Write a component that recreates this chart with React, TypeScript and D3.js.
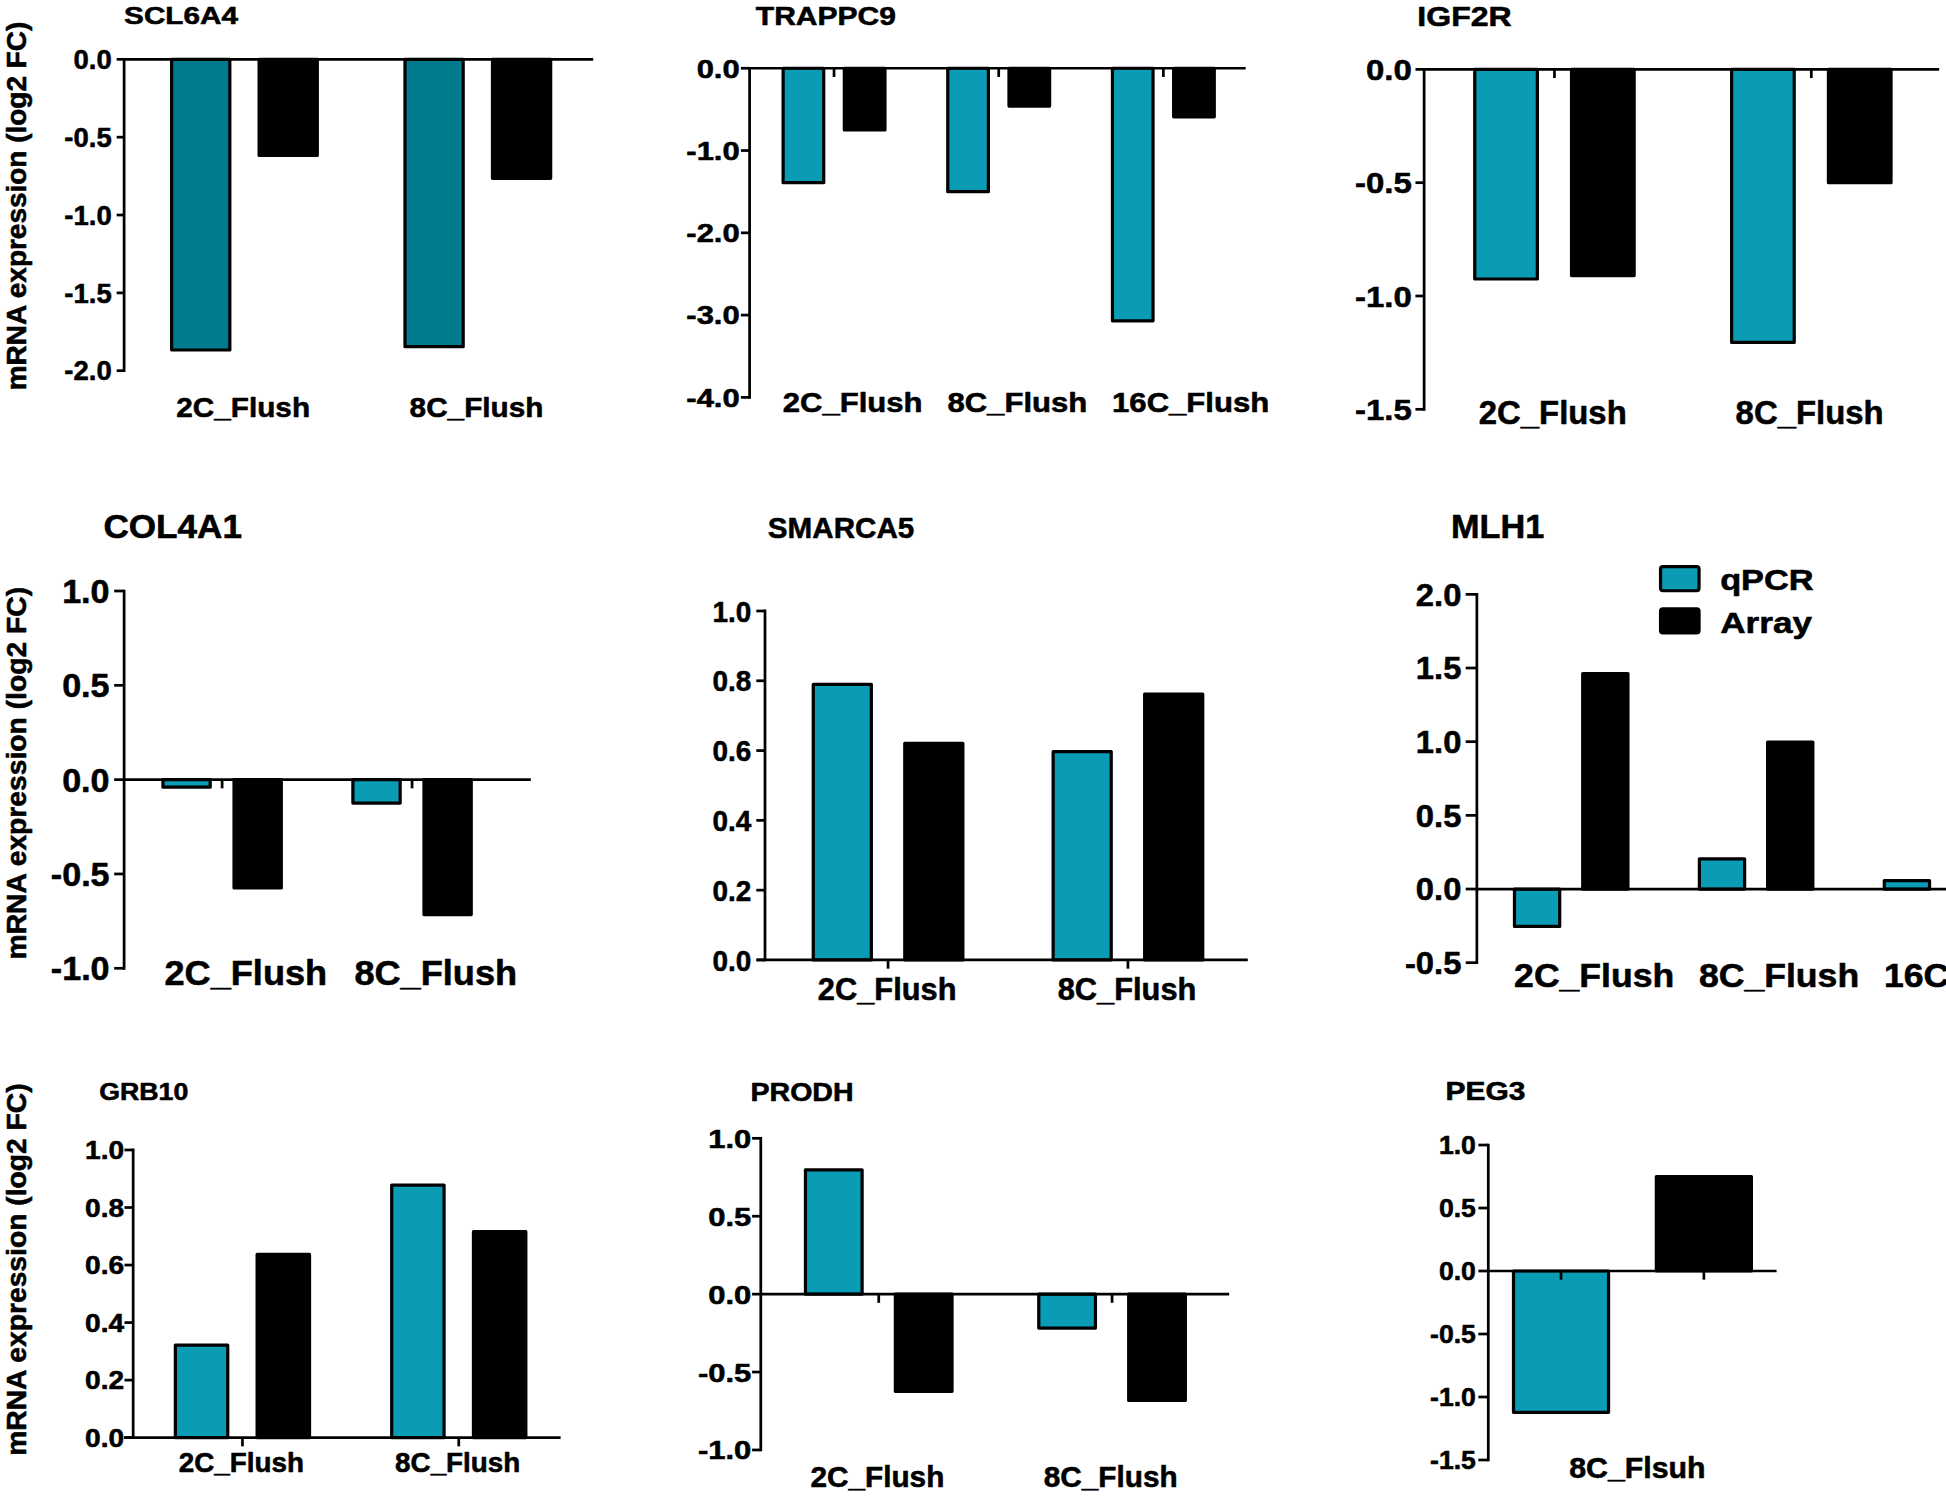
import React from 'react';
import * as d3 from 'd3';

// ---------------- data ----------------
const SERIES = ['qPCR', 'Array'];

const scl6a4Cats = ['2C_Flush', '8C_Flush'];
const scl6a4QPCR = [-1.867, -1.846];
const scl6a4Array = [-0.617, -0.764];
const scl6a4Ticks = [0, -0.5, -1, -1.5, -2];

const trappc9Cats = ['2C_Flush', '8C_Flush', '16C_Flush'];
const trappc9QPCR = [-1.39, -1.5, -3.07];
const trappc9Array = [-0.75, -0.46, -0.59];
const trappc9Ticks = [0, -1, -2, -3, -4];

const igf2rCats = ['2C_Flush', '8C_Flush'];
const igf2rQPCR = [-0.925, -1.205];
const igf2rArray = [-0.91, -0.5];
const igf2rTicks = [0, -0.5, -1, -1.5];

const col4a1Cats = ['2C_Flush', '8C_Flush'];
const col4a1QPCR = [-0.04, -0.124];
const col4a1Array = [-0.574, -0.715];
const col4a1Ticks = [1, 0.5, 0, -0.5, -1];

const smarca5Cats = ['2C_Flush', '8C_Flush'];
const smarca5QPCR = [0.79, 0.597];
const smarca5Array = [0.621, 0.762];
const smarca5Ticks = [0, 0.2, 0.4, 0.6, 0.8, 1];

const mlh1Cats = ['2C_Flush', '8C_Flush', '16C_Flush'];
const mlh1QPCR = [-0.254, 0.204, 0.057];
const mlh1Array: (number | null)[] = [1.462, 0.997, null];
const mlh1Ticks = [2, 1.5, 1, 0.5, 0, -0.5];

const grb10Cats = ['2C_Flush', '8C_Flush'];
const grb10QPCR = [0.322, 0.878];
const grb10Array = [0.637, 0.716];
const grb10Ticks = [0, 0.2, 0.4, 0.6, 0.8, 1];

const prodhCats = ['2C_Flush', '8C_Flush'];
const prodhQPCR = [0.798, -0.218];
const prodhArray = [-0.624, -0.682];
const prodhTicks = [1, 0.5, 0, -0.5, -1];

const peg3Cats = ['8C_Flsuh'];
const peg3QPCR = [-1.122];
const peg3Array = [0.749];
const peg3Ticks = [1, 0.5, 0, -0.5, -1, -1.5];

const Y_LABEL = 'mRNA expression (log2 FC)';

// ---------------- style ----------------
const FONT = "'Liberation Sans', Arial, Helvetica, sans-serif";
const TEAL = '#0a9bb5';
const TEAL_DARK = '#007a8d';
const AXIS_W = 2.2;
const BAR_W = 2.6;
const VB_W = 1568;
const VB_H = (1568 * 1497) / 1946;
const SIZE_K = 1.07;
const TEXT_STROKE = 0.45;

const fmt = d3
  .formatLocale({ decimal: '.', thousands: ',', grouping: [3], currency: ['', ''], minus: '-' })
  .format('.1f');

type Cfg = any;

const panels: Cfg[] = [
  {
    title: 'SCL6A4', tX: 100, tY: 19.2, tSize: 18, tSx: 1.33,
    cats: scl6a4Cats, values: [scl6a4QPCR, scl6a4Array], ticks: scl6a4Ticks,
    domain: [-2, 0], yTop: 47.8, yBottom: 298.7, axisX: 100, zlStart: 100, zlEnd: 478,
    gx0: 137, gx1: 445, pIn: 0.362, qIn: 0.298, teal: TEAL_DARK,
    tickSize: 20.5, tickSx: 1.08, tickLen: 6, tickGap: 10, catTicks: 'none',
    lDx: 5, lY: 336, lSize: 21.4, lSx: 1.12,
  },
  {
    title: 'TRAPPC9', tX: 609, tY: 20.5, tSize: 20, tSx: 1.21,
    cats: trappc9Cats, values: [trappc9QPCR, trappc9Array], ticks: trappc9Ticks,
    domain: [-4, 0], yTop: 55, yBottom: 320.2, axisX: 604, zlStart: 604, zlEnd: 1003.7,
    gx0: 629.7, gx1: 979.7, pIn: 0.362, qIn: 0.284, teal: TEAL,
    tickSize: 19.5, tickSx: 1.28, tickLen: 7, tickGap: 8, catTicks: 'group',
    lDx: 1, lY: 331.7, lSize: 20.7, lSx: 1.21,
  },
  {
    title: 'IGF2R', tX: 1142, tY: 21.2, tSize: 21, tSx: 1.23,
    cats: igf2rCats, values: [igf2rQPCR, igf2rArray], ticks: igf2rTicks,
    domain: [-1.5, 0], yTop: 55.9, yBottom: 329.8, axisX: 1147.5, zlStart: 1147.5, zlEnd: 1562.5,
    gx0: 1187, gx1: 1525, pIn: 0.367, qIn: 0.32, teal: TEAL,
    tickSize: 22.5, tickSx: 1.18, tickLen: 7, tickGap: 10, catTicks: 'group',
    lDx: 4.5, lY: 341.6, lSize: 25, lSx: 1.06,
  },
  {
    title: 'COL4A1', tX: 83.3, tY: 433.8, tSize: 24.4, tSx: 1.16,
    cats: col4a1Cats, values: [col4a1QPCR, col4a1Array], ticks: col4a1Ticks,
    domain: [-1, 1], yTop: 476.2, yBottom: 780.2, axisX: 100, zlStart: 100, zlEnd: 427.7,
    gx0: 130, gx1: 381, pIn: 0.36, qIn: 0.29, teal: TEAL,
    tickSize: 25, tickSx: 1.1, tickLen: 8, tickGap: 11.7, catTicks: 'group',
    lDx: 2.5, lY: 793.7, lSize: 26.5, lSx: 1.1,
  },
  {
    title: 'SMARCA5', tX: 618.7, tY: 433.8, tSize: 22.6, tSx: 1.056,
    cats: smarca5Cats, values: [smarca5QPCR, smarca5Array], ticks: smarca5Ticks,
    domain: [0, 1], yTop: 492.3, yBottom: 773.5, axisX: 616.4, zlStart: 609.7, zlEnd: 1005.4,
    gx0: 654, gx1: 970.4, pIn: 0.363, qIn: 0.33, teal: TEAL,
    tickSize: 22.5, tickSx: 1.0, tickLen: 7, tickGap: 11, catTicks: 'group',
    lDx: 5, lY: 805.7, lSize: 23.3, lSx: 1.065,
  },
  {
    title: 'MLH1', tX: 1169.2, tY: 433.8, tSize: 24.4, tSx: 1.13,
    cats: mlh1Cats, values: [mlh1QPCR, mlh1Array], ticks: mlh1Ticks,
    domain: [-0.5, 2], yTop: 478.9, yBottom: 775.7, axisX: 1190, zlStart: 1190, zlEnd: 1568,
    gx0: 1219, gx1: 1611, pIn: 0.369, qIn: 0.29, teal: TEAL,
    tickSize: 24, tickSx: 1.1, tickLen: 9, tickGap: 12.5, catTicks: 'none',
    lDx: 1, lY: 795, lSize: 24.4, lSx: 1.175, legend: true,
  },
  {
    title: 'GRB10', tX: 80, tY: 886.3, tSize: 17.5, tSx: 1.23,
    cats: grb10Cats, values: [grb10QPCR, grb10Array], ticks: grb10Ticks,
    domain: [0, 1], yTop: 926.6, yBottom: 1158.4, axisX: 107.3, zlStart: 100, zlEnd: 451.7,
    gx0: 140, gx1: 425, pIn: 0.365, qIn: 0.32, teal: TEAL,
    tickSize: 19.2, tickSx: 1.18, tickLen: 7, tickGap: 7.3, catTicks: 'group',
    lDx: 4, lY: 1185.8, lSize: 20.7, lSx: 1.084,
  },
  {
    title: 'PRODH', tX: 604.7, tY: 886.8, tSize: 19.5, tSx: 1.18,
    cats: prodhCats, values: [prodhQPCR, prodhArray], ticks: prodhTicks,
    domain: [-1, 1], yTop: 917.2, yBottom: 1168.3, axisX: 613, zlStart: 613, zlEnd: 990.4,
    gx0: 647.7, gx1: 956.4, pIn: 0.358, qIn: 0.334, teal: TEAL,
    tickSize: 20, tickSx: 1.25, tickLen: 7, tickGap: 7.6, catTicks: 'group',
    lDx: 5.3, lY: 1197.9, lSize: 21.8, lSx: 1.1,
  },
  {
    title: 'PEG3', tX: 1164.8, tY: 886.3, tSize: 19, tSx: 1.27,
    cats: peg3Cats, values: [peg3QPCR, peg3Array], ticks: peg3Ticks,
    domain: [-1.5, 1], yTop: 922.6, yBottom: 1176.4, axisX: 1199.2, zlStart: 1199.2, zlEnd: 1431.5,
    gx0: 1218.2, gx1: 1412.5, pIn: 0, qIn: 0.312, teal: TEAL,
    tickSize: 19.5, tickSx: 1.1, tickLen: 8, tickGap: 10, catTicks: 'bars',
    lAnchor: 'middle', lDx: 4, lY: 1191.1, lSize: 22, lSx: 1.11,
  },
];

const yLabelRows = [
  { cy: 166, len: 298 },
  { cy: 623, len: 301 },
  { cy: 1023, len: 301 },
];

function Txt({ x, y, size, sx = 1, anchor = 'start', rotate = 0, children }: any) {
  const s = size * SIZE_K;
  const k = sx / SIZE_K;
  const tf = `translate(${x},${y})${rotate ? ` rotate(${rotate})` : ''} scale(${k},1)`;
  return (
    <text
      transform={tf}
      fontSize={s}
      textAnchor={anchor}
      fontWeight="bold"
      fontFamily={FONT}
      fill="#000"
      stroke="#000"
      strokeWidth={TEXT_STROKE}
      strokeLinejoin="round"
    >
      {children}
    </text>
  );
}

function Panel({ c }: { c: Cfg }) {
  const y = d3.scaleLinear().domain(c.domain).range([c.yBottom, c.yTop]);
  const x0 = d3.scaleBand<string>().domain(c.cats).range([c.gx0, c.gx1]).paddingInner(c.pIn).paddingOuter(0);
  const x1 = d3.scaleBand<string>().domain(SERIES).range([0, x0.bandwidth()]).paddingInner(c.qIn).paddingOuter(0);
  const y0 = y(0);
  const colors = [c.teal, '#000'];

  const bars: any[] = [];
  c.cats.forEach((cat: string, i: number) => {
    SERIES.forEach((s, si) => {
      const v = c.values[si][i];
      if (v === null || v === undefined) return;
      const bx = (x0(cat) as number) + (x1(s) as number);
      const bw = x1.bandwidth();
      const yv = y(v);
      bars.push(
        <rect
          key={`${cat}-${s}`}
          x={bx + BAR_W / 2}
          y={Math.min(yv, y0)}
          width={bw - BAR_W}
          height={Math.abs(yv - y0)}
          fill={colors[si]}
          stroke="#000"
          strokeWidth={BAR_W}
          strokeLinejoin="round"
        />
      );
    });
  });

  const catTickXs: number[] = [];
  if (c.catTicks === 'group') {
    c.cats.forEach((cat: string) => catTickXs.push((x0(cat) as number) + x0.bandwidth() / 2));
  } else if (c.catTicks === 'bars') {
    c.cats.forEach((cat: string) =>
      SERIES.forEach((s) => catTickXs.push((x0(cat) as number) + (x1(s) as number) + x1.bandwidth() / 2))
    );
  }

  return (
    <g>
      <Txt x={c.tX} y={c.tY} size={c.tSize} sx={c.tSx}>{c.title}</Txt>
      {bars}
      <line x1={c.axisX} x2={c.axisX} y1={c.yTop - AXIS_W / 2} y2={c.yBottom + AXIS_W / 2} stroke="#000" strokeWidth={AXIS_W} />
      {c.ticks.map((t: number) => (
        <g key={t}>
          <line x1={c.axisX - c.tickLen} x2={c.axisX} y1={y(t)} y2={y(t)} stroke="#000" strokeWidth={AXIS_W} />
          <Txt
            x={c.axisX - c.tickGap}
            y={y(t) + 0.358 * c.tickSize * SIZE_K}
            size={c.tickSize}
            sx={c.tickSx}
            anchor="end"
          >
            {fmt(t)}
          </Txt>
        </g>
      ))}
      <line x1={c.zlStart} x2={c.zlEnd} y1={y0} y2={y0} stroke="#000" strokeWidth={AXIS_W} />
      {catTickXs.map((tx, i) => (
        <line key={i} x1={tx} x2={tx} y1={y0} y2={y0 + 7} stroke="#000" strokeWidth={AXIS_W} />
      ))}
      {c.cats.map((cat: string) => {
        const lx = c.lAnchor === 'middle'
          ? (x0(cat) as number) + x0.bandwidth() / 2 + c.lDx
          : (x0(cat) as number) + c.lDx;
        return (
          <Txt key={cat} x={lx} y={c.lY} size={c.lSize} sx={c.lSx} anchor={c.lAnchor || 'start'}>
            {cat}
          </Txt>
        );
      })}
      {c.legend && (
        <g>
          {SERIES.map((s, si) => (
            <g key={s}>
              <rect
                x={1338}
                y={456.5 + si * 34}
                width={31}
                height={19.5}
                rx={2}
                fill={colors[si]}
                stroke="#000"
                strokeWidth={BAR_W}
              />
              <Txt x={1386} y={475.4 + si * 34.4} size={22.5} sx={si === 0 ? 1.23 : 1.26}>{s}</Txt>
            </g>
          ))}
        </g>
      )}
    </g>
  );
}

export default function App() {
  return (
    <svg
      width={1946}
      height={1497}
      viewBox={`0 0 ${VB_W} ${VB_H}`}
      style={{ position: 'absolute', left: 0, top: 0, background: '#fff' }}
    >
      <rect x={0} y={0} width={VB_W} height={VB_H} fill="#fff" />
      {yLabelRows.map((r, i) => (
        <Txt key={i} x={21} y={r.cy} size={20.5} sx={r.len / (13.224 * 20.5)} anchor="middle" rotate={-90}>
          {Y_LABEL}
        </Txt>
      ))}
      {panels.map((c) => (
        <Panel key={c.title} c={c} />
      ))}
    </svg>
  );
}
